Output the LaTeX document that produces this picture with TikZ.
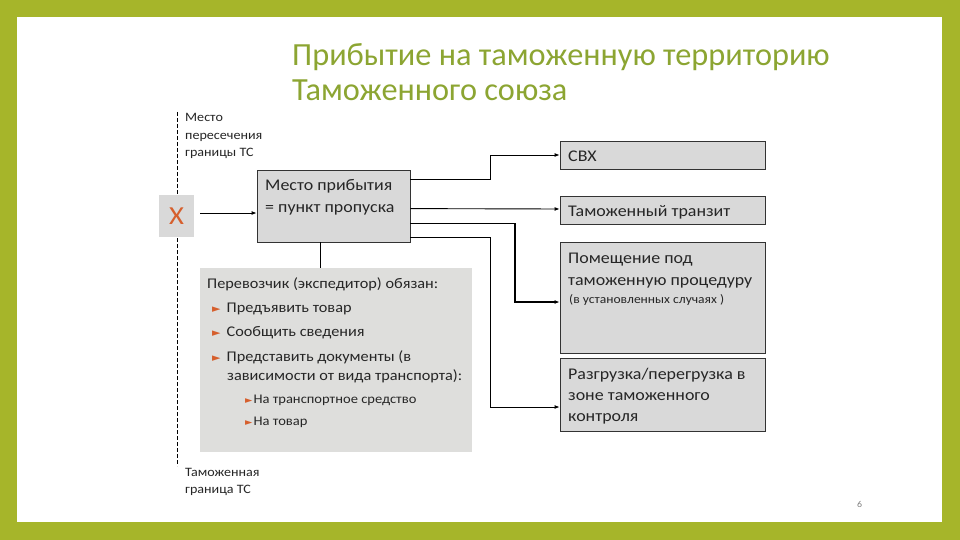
\documentclass[tikz,border=0pt]{standalone}
\usepackage{fontspec}
\setmainfont{Carlito}[FakeStretch=1.1]
\newfontfamily\ttlfont{Carlito}
\newfontfamily\dejavu{DejaVu Sans}
\usetikzlibrary{arrows.meta,calc}
\definecolor{frame}{RGB}{166,181,42}
\definecolor{ttl}{RGB}{140,165,50}
\definecolor{boxgray}{RGB}{217,217,217}
\definecolor{panelgray}{RGB}{222,222,220}
\definecolor{bul}{RGB}{214,95,45}
\newcommand{\bl}{{\dejavu\color{bul}\fontsize{11}{11}\selectfont ►}}
\newcommand{\sbl}{{\dejavu\color{bul}\fontsize{9.5}{9.5}\selectfont ►}}
\begin{document}
\begin{tikzpicture}[x=1pt,y=-1pt,
  txt/.style={anchor=base west,inner sep=0pt,text=black!85},
  rbox/.style={draw=black!80,fill=boxgray,line width=0.8pt},
  arr/.style={line width=0.9pt,-{Latex[length=5pt,width=4pt]}},
  ln/.style={line width=0.9pt}]
\fill[frame] (0,0) rectangle (960,540);
\fill[white] (17,17) rectangle (942,522);
\useasboundingbox (0,0) rectangle (960,540);
% title
\node[txt,text=ttl,font=\ttlfont\fontsize{32.3}{32}\selectfont] (t1) at (292,66) {Прибытие на таможенную территорию};
\node[txt,text=ttl,font=\ttlfont\fontsize{32.3}{32}\selectfont] (t2) at (292,101) {Таможенного союза};
% border line
\coordinate (btop) at (177,112);
\coordinate (bbot) at (177,466);
\draw[line width=0.7pt,dash pattern=on 4pt off 2pt] (btop) -- (bbot);
\node[txt,font=\fontsize{12.8}{13}\selectfont] (l1) at (185,122) {Место};
\node[txt,font=\fontsize{12.8}{13}\selectfont] (l2) at (185,140) {пересечения};
\node[txt,font=\fontsize{12.8}{13}\selectfont] (l3) at (185,157) {границы ТС};
\node[txt,font=\fontsize{12.8}{13}\selectfont] (b1) at (185,476) {Таможенная};
\node[txt,font=\fontsize{12.8}{13}\selectfont] (b2) at (185,493) {граница ТС};
% X box
\node[fill=boxgray,minimum width=35pt,minimum height=42pt,inner sep=0pt,text=bul,font=\fontsize{26}{26}\selectfont] (xbox) at (176.5,216) {X};
% main box
\node[rbox,minimum width=153pt,minimum height=72pt,inner sep=0pt] (main) at (333.5,206) {};
\node[txt,font=\fontsize{16.3}{16}\selectfont] (m1) at (265,190) {Место прибытия};
\node[txt,font=\fontsize{16.3}{16}\selectfont] (m2) at (265,212) {= пункт пропуска};
\draw[arr] (xbox.east) ++(6,-3) coordinate (xs) -- (xs -| main.west);
% panel
\node[fill=panelgray,minimum width=272pt,minimum height=184pt,inner sep=0pt] (panel) at (336,360) {};
\draw[ln] (main.south -| 320,0) -- (panel.north -| 320,0);
\node[txt,font=\fontsize{14.8}{15}\selectfont] (p0) at (207,288) {Перевозчик (экспедитор) обязан:};
\node[txt,font=\fontsize{14.8}{15}\selectfont] (p1) at (212,312) {\bl\hspace{6pt}Предъявить товар};
\node[txt,font=\fontsize{14.8}{15}\selectfont] (p2) at (212,336) {\bl\hspace{6pt}Сообщить сведения};
\node[txt,font=\fontsize{14.8}{15}\selectfont] (p3) at (212,361) {\bl\hspace{6pt}Представить документы (в};
\node[txt,font=\fontsize{14.8}{15}\selectfont] (p4) at (227,380) {зависимости от вида транспорта):};
\node[txt,font=\fontsize{13.2}{13}\selectfont] (p5) at (245,403) {\sbl\hspace{1pt}На транспортное средство};
\node[txt,font=\fontsize{13.2}{13}\selectfont] (p6) at (245,425) {\sbl\hspace{1pt}На товар};
% right boxes
\node[rbox,minimum width=205pt,minimum height=28pt,inner sep=0pt] (svx) at (662.5,155) {};
\node[txt,font=\fontsize{16.3}{16}\selectfont] at (568,161) {СВХ};
\node[rbox,minimum width=205pt,minimum height=28pt,inner sep=0pt] (tr) at (662.5,210) {};
\node[txt,font=\fontsize{16.3}{16}\selectfont] at (568,216) {Таможенный транзит};
\node[rbox,minimum width=205pt,minimum height=111pt,inner sep=0pt] (proc) at (662.5,297.5) {};
\node[txt,font=\fontsize{16.3}{16}\selectfont] at (568,263) {Помещение под};
\node[txt,font=\fontsize{16.3}{16}\selectfont] at (568,285) {таможенную процедуру};
\node[txt,font=\fontsize{12.3}{12}\selectfont] at (569,303) {(в установленных случаях )};
\node[rbox,minimum width=205pt,minimum height=73pt,inner sep=0pt] (unl) at (662.5,394.5) {};
\node[txt,font=\fontsize{16.3}{16}\selectfont] at (568,379) {Разгрузка/перегрузка в};
\node[txt,font=\fontsize{16.3}{16}\selectfont] at (568,400) {зоне таможенного};
\node[txt,font=\fontsize{16.3}{16}\selectfont] at (568,421) {контроля};
% connectors
\draw[arr] ($(main.north east)+(0,10)$) -| (490,155) -- (svx.west);
\draw[arr] ($(main.north east)+(0,39)$) -- (tr.west |- 0,209);
\draw[arr,line width=1.6pt] ($(main.north east)+(0,54)$) -| (515,302) -- (proc.west |- 0,302);
\draw[arr] ($(main.north east)+(0,68)$) -| (490,407) -- (unl.west |- 0,407);
% page number
\node[txt,text=black!50,font=\fontsize{9}{9}\selectfont] (pg) at (857,507) {6};
\end{tikzpicture}
\end{document}
